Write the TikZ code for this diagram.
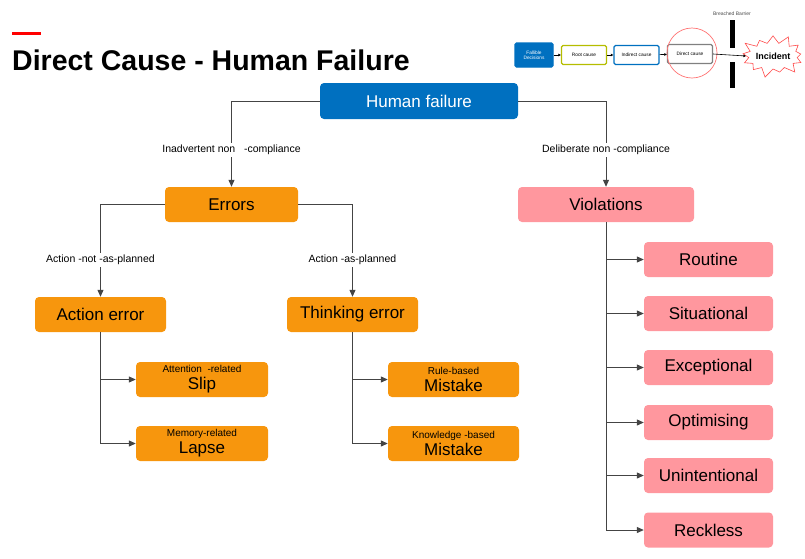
\documentclass[tikz,border=0pt]{standalone}
\usepackage{fontspec}
\setmainfont{Liberation Sans}
\usetikzlibrary{positioning,arrows.meta,shapes.symbols}
\definecolor{hfblue}{HTML}{0070C0}
\definecolor{errorange}{HTML}{F7960D}
\definecolor{violpink}{HTML}{FF979E}
\definecolor{linegray}{HTML}{444444}
\definecolor{rootgreen}{HTML}{B5BD00}
\newcommand\smalltxt[1]{{\fontsize{10}{11}\selectfont #1}}

\begin{document}
\begin{tikzpicture}[x=1pt,y=-1pt,
  every node/.style={font=\fontsize{17}{20}\selectfont},
  box/.style={rounded corners=4pt, minimum height=35pt, inner sep=2pt, align=center},
  errbox/.style={box, fill=errorange, minimum width=131pt},
  violbox/.style={box, fill=violpink, minimum width=129pt},
  twoline/.style={errbox, font=\fontsize{17}{17}\selectfont},
  lbl/.style={fill=white, font=\fontsize{10.5}{12}\selectfont, inner sep=2pt},
  conn/.style={draw=linegray, line width=1pt},
  arr/.style={conn, -{Triangle[length=7pt,width=6pt]}},
  mini/.style={draw, line width=1.3pt, rounded corners=1.5pt, minimum width=45pt, minimum height=19pt, inner sep=0pt, align=center, font=\fontsize{4.8}{5.2}\selectfont},
  miniarr/.style={line width=0.6pt, -{Triangle[length=2.5pt,width=2.5pt]}}
]
\useasboundingbox (0,0) rectangle (805,558);

% heading
\fill[red] (12,32) rectangle (41,35);
\node[anchor=base west, inner sep=0pt, font=\fontsize{28.5}{32}\selectfont\bfseries] (title) at (12,70) {Direct Cause - Human Failure};

% small overview in the corner
\node[mini, draw=hfblue, fill=hfblue, text=white, minimum width=38pt, minimum height=24pt] (fallible) at (534,55) {Fallible\\Decisions};
\node[mini, draw=rootgreen, fill=white] (root) at (584,55) {Root cause};
\node[mini, draw=hfblue, fill=white] (indirect) at (636.5,55) {Indirect cause};
\node[mini, draw=gray, fill=white] (direct) at (690,54) {Direct cause};
\draw[red!55, line width=0.7pt] (692,53) circle (25);
\fill (729.5,20) rectangle (734.5,48);
\fill (729.5,62) rectangle (734.5,88);
\node[font=\fontsize{5}{5.5}\selectfont, text=black!70] (breach) at (732,14) {Breached Barrier};
\node[starburst, draw=red!70, fill=white, line width=0.6pt, minimum width=54pt, minimum height=46pt, starburst points=13, starburst point height=10pt, inner sep=0pt, font=\fontsize{9}{10}\selectfont\bfseries] (incident) at (773,56) {Incident};
\draw[miniarr] (fallible) -- (root);
\draw[miniarr] (root) -- (indirect);
\draw[miniarr] (indirect) -- (direct);
\draw[miniarr] (direct.east) -- (incident.west);

% main tree
\node[box, fill=hfblue, text=white, minimum width=198pt, minimum height=36pt] (hf) at (419,101) {Human failure};
\node[errbox, minimum width=133pt] (errors) at (231.5,204.5) {Errors};
\node[box, fill=violpink, minimum width=176pt] (viol) at (606,204.5) {Violations};
\node[errbox] (acterr) at (100.5,314.5) {Action error};
\node[errbox] (thinkerr) at (352.5,314.5) {Thinking error};
\node[twoline, minimum width=132pt] (slip) at (202,379.5) {\smalltxt{Attention\ \ -related}\\Slip};
\node[twoline, minimum width=132pt] (lapse) at (202,443.5) {\smalltxt{Memory-related}\\Lapse};
\node[twoline] (rule) at (453.5,379.5) {\smalltxt{Rule-based}\\Mistake};
\node[twoline] (knowledge) at (453.5,443.5) {\smalltxt{Knowledge -based}\\Mistake};
\node[violbox] (routine) at (708.5,259.5) {Routine};
\node[violbox] (situational) at (708.5,313.5) {Situational};
\node[violbox] (exceptional) at (708.5,367.5) {Exceptional};
\node[violbox] (optimising) at (708.5,422.5) {Optimising};
\node[violbox] (unintentional) at (708.5,475.5) {Unintentional};
\node[violbox] (reckless) at (708.5,530) {Reckless};

\draw[arr] (hf.west) -| node[lbl, pos=0.785] {Inadvertent non\ \ \ -compliance} (errors.north);
\draw[arr] (hf.east) -| node[lbl, pos=0.785] {Deliberate non -compliance} (viol.north);
\draw[arr] (errors.west) -| node[lbl, pos=0.8] {Action -not -as-planned} (acterr.north);
\draw[arr] (errors.east) -| node[lbl, pos=0.8] {Action -as-planned} (thinkerr.north);
\draw[arr] (acterr.south) |- (slip.west);
\draw[arr] (acterr.south) |- (lapse.west);
\draw[arr] (thinkerr.south) |- (rule.west);
\draw[arr] (thinkerr.south) |- (knowledge.west);
\foreach \v in {routine,situational,exceptional,optimising,unintentional,reckless}
  \draw[arr] (viol.south) |- (\v.west);
\end{tikzpicture}
\end{document}
